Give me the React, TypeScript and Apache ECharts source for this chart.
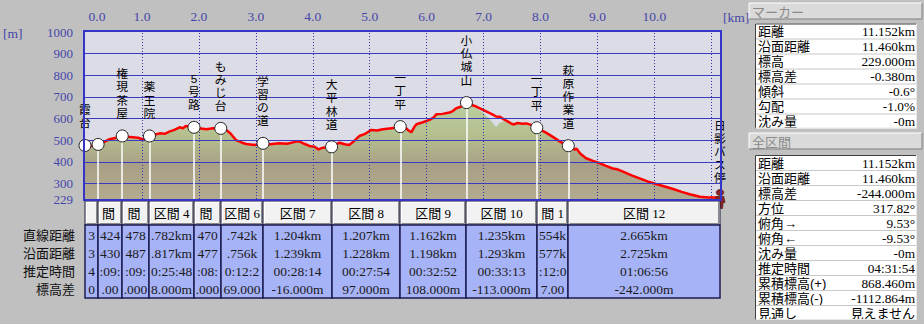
import React, { useEffect, useRef } from 'react';
import * as echarts from 'echarts';

// ---- data ----
const markerKm = [0, 0.23, 0.654, 1.132, 1.914, 2.384, 3.126, 4.33, 5.537, 6.699, 7.934, 8.488, 11.152];
const markerElev = [476, 481, 520, 520, 560, 555, 486, 470, 563, 674, 558, 475, 229];
const markerNames = ['霞台', '', '権現茶屋', '薬王院', '5号路', 'もみじ台', '学習の道', '大平林道', '一丁平', '小仏城山', '一丁平', '萩原作業道', '日影バス停'];

const profileKm = [0, 0.1, 0.22, 0.33, 0.43, 0.55, 0.65, 0.75, 0.84, 0.93, 1.01, 1.08, 1.13, 1.22, 1.31, 1.4, 1.48, 1.57, 1.66, 1.72, 1.77, 1.85, 1.92, 2.0, 2.13, 2.25, 2.36, 2.48, 2.56, 2.65, 2.75, 2.83, 2.98, 3.12, 3.25, 3.41, 3.55, 3.71, 3.77, 3.85, 3.94, 4.03, 4.1, 4.18, 4.33, 4.4, 4.47, 4.56, 4.64, 4.72, 4.82, 4.92, 5.03, 5.13, 5.23, 5.35, 5.45, 5.54, 5.61, 5.67, 5.73, 5.78, 5.82, 5.92, 6.05, 6.12, 6.17, 6.28, 6.4, 6.46, 6.52, 6.6, 6.66, 6.7, 6.78, 6.87, 6.99, 7.11, 7.22, 7.28, 7.35, 7.43, 7.48, 7.52, 7.6, 7.68, 7.75, 7.85, 7.93, 8.0, 8.08, 8.16, 8.25, 8.34, 8.42, 8.48, 8.55, 8.6, 8.63, 8.7, 8.8, 8.92, 9.04, 9.15, 9.27, 9.35, 9.45, 9.6, 9.74, 9.88, 10.03, 10.18, 10.33, 10.48, 10.62, 10.8, 10.95, 11.11, 11.152];
const profileElev = [476, 473, 481, 492, 505, 512, 520, 516, 514, 512, 505, 512, 520, 526, 532, 530, 540, 548, 560, 556, 566, 562, 560, 556, 551, 556, 555, 548, 530, 501, 490, 483, 478, 486, 482, 486, 484, 494, 494, 484, 474, 470, 458, 466, 470, 480, 489, 482, 478, 495, 520, 530, 548, 545, 551, 555, 558, 563, 563, 548, 537, 560, 574, 582, 594, 605, 620, 622, 628, 635, 648, 655, 668, 674, 664, 656, 640, 625, 610, 609, 598, 586, 578, 573, 580, 576, 578, 570, 558, 548, 538, 525, 510, 494, 484, 475, 465, 456, 462, 438, 417, 405, 394, 382, 370, 366, 355, 338, 324, 310, 298, 287, 275, 262, 251, 239, 236, 236, 229];

// terrain surface differs from the track between these km
const terrainCut = [6.74, 7.46];
const terrainKm = [6.8, 6.9, 7.0, 7.1, 7.18, 7.22, 7.27, 7.34, 7.42];
const terrainElev = [662, 644, 626, 598, 574, 560, 578, 588, 584];

const sectionNames = ['区間 1', '区間 2', '区間 3', '区間 4', '区間 5', '区間 6', '区間 7', '区間 8', '区間 9', '区間 10', '区間 11', '区間 12'];
const sectionDirect = ['0.230km', '0.424km', '0.478km', '0.782km', '0.470km', '0.742km', '1.204km', '1.207km', '1.162km', '1.235km', '0.554km', '2.665km'];
const sectionSurface = ['0.232km', '0.430km', '0.487km', '0.817km', '0.477km', '0.756km', '1.239km', '1.228km', '1.198km', '1.293km', '0.577km', '2.725km'];
const sectionTime = ['00:04:30', '00:09:36', '00:09:42', '00:25:48', '00:08:40', '00:12:25', '00:28:14', '00:27:54', '00:32:52', '00:33:13', '00:12:04', '01:06:56'];
const sectionDiff = ['5.000m', '33.000m', '-2.000m', '38.000m', '-6.000m', '-69.000m', '-16.000m', '97.000m', '108.000m', '-113.000m', '-77.000m', '-242.000m'];
const rowLabels = ['直線距離', '沿面距離', '推定時間', '標高差'];

const yTicks = [229, 300, 400, 500, 600, 700, 800, 900, 1000];
const gridElev = [300, 400, 500, 600, 700, 800, 900];
const gridKm = [1, 2, 3, 4, 5, 6, 7, 8, 9, 10, 11];

const markerPanelLabels = ['距離', '沿面距離', '標高', '標高差', '傾斜', '勾配', '沈み量'];
const markerPanelValues = ['11.152km', '11.460km', '229.000m', '-0.380m', '-0.6°', '-1.0%', '-0m'];
const totalPanelLabels = ['距離', '沿面距離', '標高差', '方位', '俯角→', '俯角←', '沈み量', '推定時間', '累積標高(+)', '累積標高(-)', '見通し'];
const totalPanelValues = ['11.152km', '11.460km', '-244.000m', '317.82°', '9.53°', '-9.53°', '-0m', '04:31:54', '868.460m', '-1112.864m', '見えません'];

// ---- styling helpers ----
const SERIF = 'Liberation Serif, Noto Sans CJK JP, serif';
const JP = 'Liberation Sans, Noto Sans CJK JP, sans-serif';
const AXIS_BLUE = '#4646aa';
const CELL_SIZE = 13.5;
const PANEL_SIZE = 13;

let measureCtx: CanvasRenderingContext2D | null = null;
function textW(s: string, size: number, family: string) {
  if (!measureCtx) measureCtx = document.createElement('canvas').getContext('2d');
  if (!measureCtx) return s.length * size * 0.5;
  measureCtx.font = `${size}px ${family}`;
  return measureCtx.measureText(s).width;
}
function clipCenter(t: string, w: number, size: number, family: string, leftFirst: boolean) {
  let s = t;
  let left = leftFirst;
  while (s.length > 0 && textW(s, size, family) > w - 1.5) {
    s = left ? s.slice(1) : s.slice(0, -1);
    left = !left;
  }
  return s;
}

function panel(title: string, y: number, labels: string[], values: string[], tableTop: number): any[] {
  const els: any[] = [];
  const hx = 749, hw = 173, hh = 16;
  els.push({ type: 'rect', shape: { x: hx, y, width: hw, height: hh }, style: { fill: '#dadada' } });
  els.push({ type: 'polyline', shape: { points: [[hx, y + hh], [hx, y], [hx + hw, y]] }, style: { stroke: '#ffffff', fill: 'none', lineWidth: 1 } });
  els.push({ type: 'polyline', shape: { points: [[hx, y + hh], [hx + hw, y + hh], [hx + hw, y]] }, style: { stroke: '#808080', fill: 'none', lineWidth: 1 } });
  els.push({ type: 'text', x: hx + 3, y: y + hh / 2 + 1, style: { text: title, fill: '#8a8a8a', fontSize: 13, fontFamily: JP, align: 'left', verticalAlign: 'middle' } });
  const tx = 755, tw = 162, rh = 15;
  const th = rh * labels.length;
  els.push({ type: 'rect', shape: { x: tx, y: tableTop, width: tw, height: th }, style: { fill: '#ffffff' } });
  labels.forEach((lab, i) => {
    const ry = tableTop + rh * i;
    if (i > 0) {
      els.push({ type: 'line', shape: { x1: tx, y1: ry + 0.5, x2: tx + tw, y2: ry + 0.5 }, style: { stroke: '#c8c8c8', lineWidth: 1 } });
    }
    els.push({ type: 'text', x: tx + 3, y: ry + rh / 2 + 0.5, style: { text: lab, fill: '#000', fontSize: PANEL_SIZE, fontFamily: JP, align: 'left', verticalAlign: 'middle' } });
    const v = values[i];
    const isJp = /[\u3000-\u9fff]/.test(v);
    els.push({ type: 'text', x: tx + tw - 2, y: ry + rh / 2 + 0.5, style: { text: v, fill: '#000', fontSize: isJp ? PANEL_SIZE : 13.3, fontFamily: isJp ? JP : SERIF, align: 'right', verticalAlign: 'middle' } });
  });
  els.push({ type: 'polyline', shape: { points: [[tx + 0.5, tableTop + th], [tx + 0.5, tableTop + 0.5], [tx + tw, tableTop + 0.5]] }, style: { stroke: '#404040', fill: 'none', lineWidth: 1 } });
  els.push({ type: 'polyline', shape: { points: [[tx + 0.5, tableTop + th - 0.5], [tx + tw - 0.5, tableTop + th - 0.5], [tx + tw - 0.5, tableTop]] }, style: { stroke: '#e8e8e8', fill: 'none', lineWidth: 1 } });
  return els;
}

export default function App() {
  const ref = useRef<HTMLDivElement>(null);
  useEffect(() => {
    if (!ref.current) return;
    const chart = echarts.init(ref.current, undefined, { renderer: 'svg' });

    const profileData = profileKm.map((k, i) => [k, profileElev[i]]);
    const terrainData = profileData
      .filter(([k]) => k < terrainCut[0] || k > terrainCut[1])
      .concat(terrainKm.map((k, i) => [k, terrainElev[i]]))
      .sort((a, b) => a[0] - b[0]);
    const last = markerKm.length - 1;
    const markerData = markerKm.map((k, i) =>
      i === last
        ? {
            value: [k, markerElev[i]],
            symbol: 'path://M4,0 C5.7,0 7,1.3 7,3 C7,4.7 5.7,6 4,6 C2.3,6 1,4.7 1,3 C1,1.3 2.3,0 4,0 Z M1,7 L7,7 L8,13 L6.5,13 L6,19 L4.5,19 L4,14 L3.5,19 L2,19 L1.5,13 L0,13 Z',
            symbolSize: [10, 19],
            itemStyle: { color: '#8e2222', borderColor: '#3a1010', borderWidth: 0.6 },
            label: { distance: 4 },
          }
        : { value: [k, markerElev[i]] }
    );
    const sectionData = sectionNames.map((_, i) => [markerKm[i], markerKm[i + 1], 229]);

    const fillGrad = new echarts.graphic.LinearGradient(0, 32, 0, 199, [
      { offset: 0, color: '#c6dcba' },
      { offset: 0.42, color: '#b8cea2' },
      { offset: 0.62, color: '#b5bf8e' },
      { offset: 0.8, color: '#a89f86' },
      { offset: 1, color: '#b3ab8f' },
    ], true);

    const graphics: any[] = [];
    graphics.push({ type: 'rect', z: 100, shape: { x: 84, y: 31, width: 637, height: 169 }, style: { fill: 'none', stroke: '#3434c8', lineWidth: 2 } });
    graphics.push({ type: 'text', x: 3, y: 33, style: { text: '[m]', fill: AXIS_BLUE, fontSize: 13.5, fontFamily: SERIF, align: 'left', verticalAlign: 'middle' } });
    graphics.push({ type: 'text', x: 723, y: 17, style: { text: '[km]', fill: AXIS_BLUE, fontSize: 13.5, fontFamily: SERIF, align: 'left', verticalAlign: 'middle' } });
    rowLabels.forEach((lab, i) => {
      graphics.push({ type: 'text', x: 75, y: 235 + 18 * i, style: { text: lab, fill: '#111', fontSize: 13, fontFamily: JP, align: 'right', verticalAlign: 'middle' } });
    });
    graphics.push(...panel('マーカー', 3, markerPanelLabels, markerPanelValues, 23.5));
    graphics.push(...panel('全区間', 133, totalPanelLabels, totalPanelValues, 155));

    const option: any = {
      animation: false,
      backgroundColor: '#c0c0c0',
      grid: { left: 85, top: 32, width: 635, height: 167, show: true, backgroundColor: '#dcdce6', borderWidth: 0 },
      xAxis: {
        type: 'value', min: 0, max: 11.152, interval: 1, position: 'top',
        axisLine: { show: false }, axisTick: { show: false }, splitLine: { show: false },
        axisLabel: {
          color: AXIS_BLUE, fontFamily: SERIF, fontSize: 13.5, margin: 9,
          formatter: (v: number) => {
            if (Math.abs(v - Math.round(v)) > 1e-6 || v > 10.5) return '';
            if (v === 0) return '{first|0.0}';
            return v.toFixed(1);
          },
          rich: { first: { color: AXIS_BLUE, fontFamily: SERIF, fontSize: 13.5, padding: [0, 0, 0, 24] } },
        },
      },
      yAxis: {
        type: 'value', min: 229, max: 1000,
        axisLine: { show: false }, axisTick: { show: false }, splitLine: { show: false },
        axisLabel: {
          color: AXIS_BLUE, fontFamily: SERIF, fontSize: 13, margin: 12, customValues: yTicks,
          showMinLabel: true, showMaxLabel: true,
          formatter: (v: number) => String(Math.round(v)),
        },
      },
      series: [
        {
          type: 'line', name: 'terrain', data: terrainData, z: 1, symbol: 'none', silent: true,
          lineStyle: { width: 0, opacity: 0 },
          areaStyle: { color: fillGrad, opacity: 1, origin: 'start' },
        },
        {
          type: 'line', name: 'grid', data: [[0, 229]], z: 2, symbol: 'none', silent: true,
          lineStyle: { opacity: 0 },
          markLine: {
            silent: true, symbol: ['none', 'none'], label: { show: false },
            lineStyle: { color: '#3a3ac2', width: 1, type: 'solid' },
            data: gridElev.map((v) => ({ yAxis: v }))
              .concat(gridKm.map((k) => ({ xAxis: k, lineStyle: { color: '#3030a8', width: 1, type: [1, 2] } } as any))),
          },
        },
        {
          type: 'line', name: 'stems', data: [[0, 229]], z: 3, symbol: 'none', silent: true,
          lineStyle: { opacity: 0 },
          markLine: {
            silent: true, symbol: ['none', 'none'], label: { show: false },
            lineStyle: { color: '#ffffff', width: 1.5, type: 'solid' },
            data: markerKm.slice(1, last).map((k, i) => [{ coord: [k, markerElev[i + 1]] }, { coord: [k, 229] }]),
          },
        },
        {
          type: 'line', name: 'track', data: profileData, z: 4, symbol: 'none', silent: true,
          lineStyle: { color: '#ff0000', width: 2.5 },
        },
        {
          type: 'scatter', name: 'markers', data: markerData, z: 5, silent: true,
          symbol: 'circle', symbolSize: 12,
          itemStyle: { color: '#ffffff', borderColor: '#222222', borderWidth: 1, opacity: 1 },
          label: {
            show: true, position: 'top', distance: 9, color: '#000', fontSize: 11.8, lineHeight: 13.2, fontFamily: JP,
            formatter: (p: any) => markerNames[p.dataIndex].split('').join('\n'),
          },
        },
        {
          type: 'custom', name: 'sections', data: sectionData, z: 6, clip: false, silent: true,
          encode: { x: [0, 1], y: 2 },
          renderItem: (params: any, api: any) => {
            const i = params.dataIndex;
            const p0 = api.coord([api.value(0), 229]);
            const p1 = api.coord([api.value(1), 229]);
            const x0 = Math.round(p0[0]);
            const x1 = Math.round(p1[0]);
            const w = x1 - x0;
            const cx = (x0 + x1) / 2;
            const children: any[] = [
              { type: 'rect', shape: { x: x0, y: 201, width: w, height: 24 }, style: { fill: '#f2f2f2', stroke: '#1e1e3a', lineWidth: 1 } },
              { type: 'polyline', shape: { points: [[x0 + 1.5, 224], [x0 + 1.5, 202.5], [x1 - 1, 202.5]] }, style: { stroke: '#ffffff', fill: 'none', lineWidth: 1 } },
              { type: 'polyline', shape: { points: [[x0 + 1.5, 223.5], [x1 - 1.5, 223.5], [x1 - 1.5, 202]] }, style: { stroke: '#8a8a8a', fill: 'none', lineWidth: 1 } },
              { type: 'rect', shape: { x: x0, y: 225, width: w, height: 73 }, style: { fill: '#a7b3f7', stroke: '#1c1c52', lineWidth: 1.5 } },
              { type: 'text', x: cx, y: 213, style: { text: clipCenter(sectionNames[i], w, 13, SERIF, false), fill: '#000', fontSize: 13, fontFamily: SERIF, align: 'center', verticalAlign: 'middle' } },
            ];
            const rows = [sectionDirect[i], sectionSurface[i], sectionTime[i], sectionDiff[i]];
            rows.forEach((t, r) => {
              children.push({ type: 'text', x: cx, y: 235 + 18 * r, style: { text: clipCenter(t, w, CELL_SIZE, SERIF, true), fill: '#1a1a1a', fontSize: CELL_SIZE, fontFamily: SERIF, align: 'center', verticalAlign: 'middle' } });
            });
            return { type: 'group', children };
          },
        },
      ],
      graphic: graphics,
    };
    chart.setOption(option);
    return () => chart.dispose();
  }, []);
  return (
    <div
      ref={ref}
      style={{ position: 'fixed', left: 0, top: 0, width: 924, height: 324, background: '#c0c0c0' }}
    />
  );
}
